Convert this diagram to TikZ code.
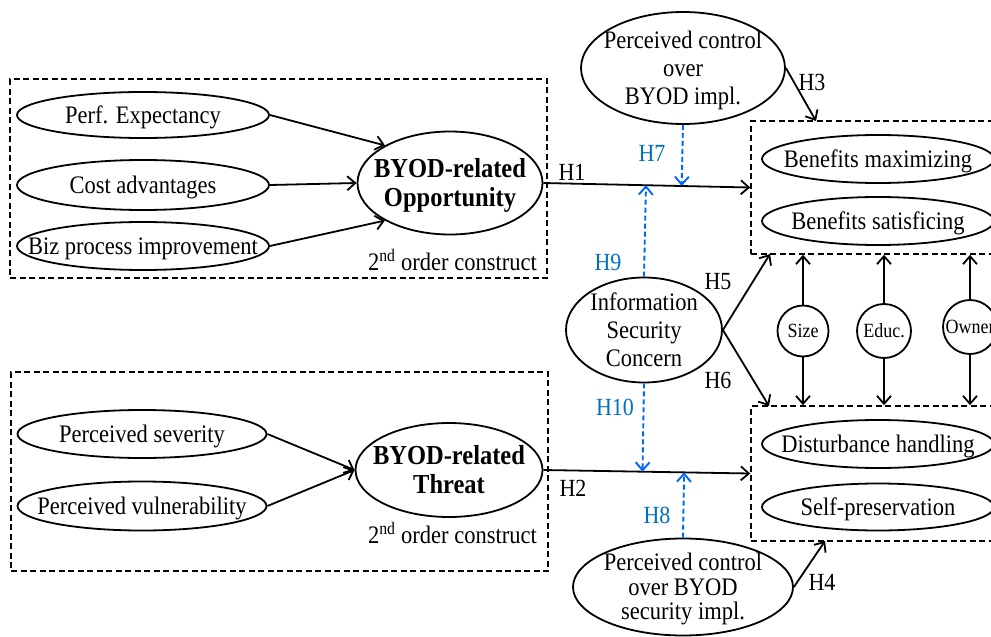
\documentclass[tikz,border=0pt]{standalone}
\usepackage{fontspec}
\usepackage{graphicx}
\setmainfont{Liberation Serif}
\usetikzlibrary{shapes.geometric,arrows.meta,calc}
\definecolor{hblue}{RGB}{0,112,192}
\definecolor{dblue}{RGB}{0,102,255}
\newcommand{\zt}[1]{\smash{\raisebox{-0.4em}{\makebox[0pt]{\scalebox{1}[1.12]{\begin{tabular}{@{}c@{}}#1\end{tabular}}}}}}
\newcommand{\vs}[1]{\scalebox{1}[1.12]{#1}}
\begin{document}
\begin{tikzpicture}[x=1pt,y=-1pt,
  every node/.style={font=\fontsize{22.5}{25}\selectfont, inner sep=0pt},
  ell/.style={ellipse, draw, line width=1.8pt},
  boldtxt/.style={font=\fontsize{24.5}{26}\selectfont\bfseries},
  circ/.style={circle, draw, line width=1.8pt, font=\fontsize{18}{20}\selectfont},
  dashbox/.style={draw, line width=1.6pt, dash pattern=on 6pt off 3.5pt},
  arr/.style={line width=1.8pt, -{Straight Barb[length=8pt,width=14pt]}},
  darr/.style={dblue, line width=1.9pt, dash pattern=on 5pt off 3pt, -{Straight Barb[length=8pt,width=14pt]}},
  hl/.style={font=\fontsize{22}{24}\selectfont},
  bl/.style={hl, text=hblue}]
\useasboundingbox (0,0) rectangle (991,637);
\clip (0,0) rectangle (991,637);

% dashed group boxes
\node[dashbox, minimum width=537pt, minimum height=199pt] (obox) at (278.5,178.5) {};
\node[dashbox, minimum width=537pt, minimum height=199pt] (tbox) at (279.5,471.5) {};
\node[dashbox, minimum width=259pt, minimum height=133pt] (benbox) at (880.5,187.5) {};
\node[dashbox, minimum width=259pt, minimum height=135pt] (disbox) at (880.5,473.5) {};

% opportunity group
\node[ell, minimum width=252pt, minimum height=46pt] (perf) at (143,115) {\zt{Perf. Expectancy}};
\node[ell, minimum width=252pt, minimum height=50pt] (cost) at (143,185) {\zt{Cost advantages}};
\node[ell, minimum width=252pt, minimum height=48pt] (biz) at (143,246) {\zt{Biz process improvement}};
\node[ell, boldtxt, minimum width=185pt, minimum height=103pt] (opp) at (450,183) {\zt{BYOD-related\\Opportunity}};
\node[anchor=east] (oc) at (537,260) {\vs{2\textsuperscript{nd} order construct}};

% threat group
\node[ell, minimum width=249pt, minimum height=48pt] (sev) at (142,434) {\zt{Perceived severity}};
\node[ell, minimum width=249pt, minimum height=49pt] (vul) at (142,506) {\zt{Perceived vulnerability}};
\node[ell, boldtxt, minimum width=187pt, minimum height=94pt] (thr) at (449,470) {\zt{BYOD-related\\Threat}};
\node[anchor=east] (tc) at (537,533) {\vs{2\textsuperscript{nd} order construct}};

% middle
\node[ell, minimum width=204pt, minimum height=112pt] (pc1) at (683,68) {\zt{Perceived control\\over\\BYOD impl.}};
\node[ell, minimum width=156pt, minimum height=105pt] (info) at (644,330) {\zt{Information\\Security\\Concern}};
\node[ell, minimum width=220pt, minimum height=97pt, font=\fontsize{22.5}{21.5}\selectfont] (pc2) at (683,587) {\zt{Perceived control\\over BYOD\\security impl.}};

% outcomes
\node[ell, minimum width=232pt, minimum height=48pt] (bmax) at (878,159) {\zt{Benefits maximizing}};
\node[ell, minimum width=232pt, minimum height=48pt] (bsat) at (878,221) {\zt{Benefits satisficing}};
\node[ell, minimum width=232pt, minimum height=48pt] (dist) at (878,444) {\zt{Disturbance handling}};
\node[ell, minimum width=232pt, minimum height=47pt] (self) at (878,507) {\zt{Self-preservation}};

% moderators
\node[circ, minimum size=51pt] (size) at (803,331) {\zt{Size}};
\node[circ, minimum size=54pt] (educ) at (884,331) {\zt{Educ.}};
\node[circ, minimum size=54pt] (owner) at (970,327) {\zt{Owner}};

% arrows into constructs
\draw[arr] (perf.east) -- (opp.150);
\draw[arr] (cost.east) -- (opp.west);
\draw[arr] (biz.east) -- (opp.210);
\draw[arr] (sev.east) -- (thr.west);
\draw[arr] (vul.east) -- (thr.west);

% main paths
\draw[arr] (opp.east) -- (benbox.west);
\draw[arr] (thr.east) -- (disbox.west);

\coordinate (h3end) at (816,121);
\coordinate (h4end) at (825,541);
\coordinate (h5end) at (770,254);
\coordinate (h6end) at (769,406);
\draw[arr] (pc1.east) -- (h3end);
\draw[arr] (pc2.east) -- (h4end);
\draw[arr] (info.east) -- (h5end);
\draw[arr] (info.east) -- (h6end);

% moderator arrows
\draw[arr] (size) -- (size |- benbox.south);
\draw[arr] (size) -- (size |- disbox.north);
\draw[arr] (educ) -- (educ |- benbox.south);
\draw[arr] (educ) -- (educ |- disbox.north);
\draw[arr] (owner) -- (owner |- benbox.south);
\draw[arr] (owner) -- (owner |- disbox.north);

% moderating (dashed blue)
\draw[darr] (pc1.south) -- ($(opp.east)!(pc1.south)!(benbox.west)$);
\draw[darr] (info.north) -- ($(opp.east)!(info.north)!(benbox.west)$);
\draw[darr] (info.south) -- ($(thr.east)!(info.south)!(disbox.west)$);
\draw[darr] (pc2.north) -- ($(thr.east)!(pc2.north)!(disbox.west)$);

% labels
\node[hl] (lh1) at (572,172) {\vs{H1}};
\node[hl] (lh2) at (573,488) {\vs{H2}};
\node[hl] (lh3) at (812,82) {\vs{H3}};
\node[hl] (lh4) at (822,582) {\vs{H4}};
\node[hl] (lh5) at (718,282) {\vs{H5}};
\node[hl] (lh6) at (718,380) {\vs{H6}};
\node[bl] (lh7) at (652,153) {\vs{H7}};
\node[bl] (lh8) at (657,515) {\vs{H8}};
\node[bl] (lh9) at (608,262) {\vs{H9}};
\node[bl] (lh10) at (615,407) {\vs{H10}};
\end{tikzpicture}
\end{document}
